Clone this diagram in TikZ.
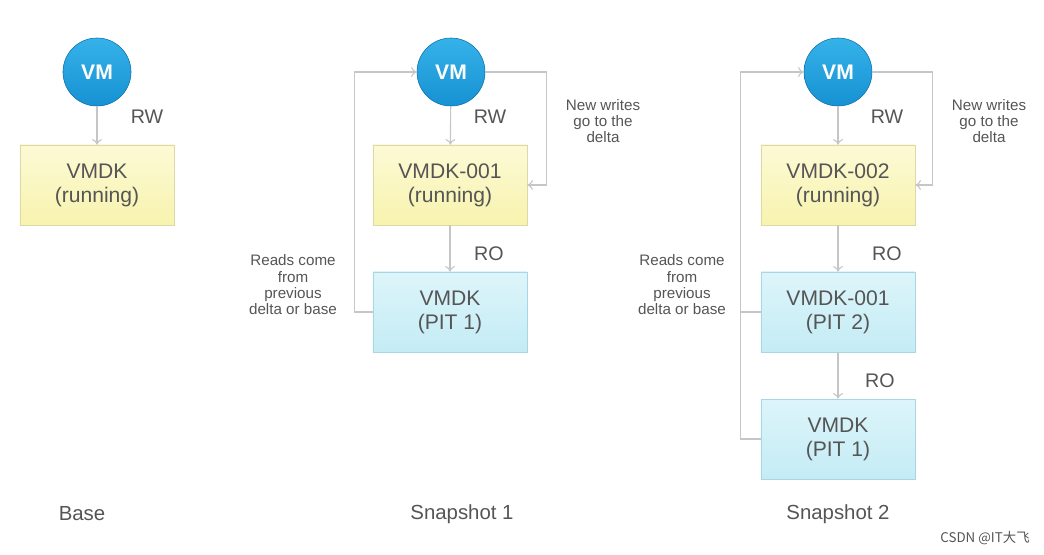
\documentclass[tikz,border=0pt]{standalone}
\usepackage{fontspec}
\setmainfont{Liberation Sans}
\newfontfamily\cjk{Noto Sans CJK SC}
\usepackage{xcolor}
\usetikzlibrary{arrows.meta}

\definecolor{vmblue}{HTML}{1691D2}
\definecolor{vmtop}{HTML}{36B2EA}
\definecolor{vmedge}{HTML}{0B6FAE}
\definecolor{runfill}{HTML}{F8F3AE}
\definecolor{runtop}{HTML}{FCFAD6}
\definecolor{runedge}{HTML}{DCD8A8}
\definecolor{pitfill}{HTML}{C4ECF5}
\definecolor{pittop}{HTML}{DDF5FA}
\definecolor{pitedge}{HTML}{A9D6E2}
\definecolor{linkgray}{HTML}{C6C6C6}
\definecolor{txtgray}{HTML}{555555}

\begin{document}
\begin{tikzpicture}[x=0.025cm,y=-0.025cm,
  vm/.style={circle,minimum size=1.7cm,inner sep=0pt,draw=vmedge,thin,
    top color=vmtop,bottom color=vmblue,text=white,font=\bfseries\fontsize{15}{17}\selectfont},
  disk/.style={rectangle,minimum width=3.85cm,minimum height=2cm,align=center,
    text=txtgray,font=\fontsize{15}{17}\selectfont},
  running/.style={disk,draw=runedge,top color=runtop,bottom color=runfill},
  pit/.style={disk,draw=pitedge,top color=pittop,bottom color=pitfill},
  mode/.style={text=txtgray,font=\fontsize{14}{16}\selectfont},
  note/.style={text=txtgray,align=center,font=\fontsize{10.8}{11.6}\selectfont},
  title/.style={text=txtgray,font=\fontsize{14.5}{16}\selectfont},
  arr/.style={draw=linkgray,thick,-{To[length=4pt,width=7pt]}},
  lnk/.style={draw=linkgray,thick}]
  \useasboundingbox (0,0) rectangle (1044,554);

  % base
  \node[vm] (vm0) at (97,72) {VM};
  \node[running] (d0) at (97,185) {VMDK\\(running)};
  \node[mode] (rw0) at (147,117) {RW};
  \node[title] (t0) at (82,514) {Base};
  \draw[arr] (vm0) -- (d0);

  % snapshot 1
  \node[vm] (vm1) at (451,72) {VM};
  \node[running] (d1a) at (450,185) {VMDK-001\\(running)};
  \node[pit] (d1b) at (450,312) {VMDK\\(PIT 1)};
  \node[mode] (rw1) at (490,117) {RW};
  \node[mode] (ro1) at (489,254) {RO};
  \node[note] (nw1) at (603,121) {New writes\\go to the\\delta};
  \node[note] (rd1) at (293,285) {Reads come\\from\\previous\\delta or base};
  \node[title] (t1) at (462,514) {Snapshot 1};
  \draw[arr] (vm1) -- (d1a);
  \draw[arr] (d1a) -- (d1b);
  \draw[arr] (d1b.west) -- ++(-18,0) |- (vm1.west);
  \draw[arr] (vm1.east) -- ++(61,0) |- (d1a.east);

  % snapshot 2
  \node[vm] (vm2) at (838,72) {VM};
  \node[running] (d2a) at (838,185) {VMDK-002\\(running)};
  \node[pit] (d2b) at (838,312) {VMDK-001\\(PIT 2)};
  \node[pit] (d2c) at (838,439) {VMDK\\(PIT 1)};
  \node[mode] (rw2) at (887,117) {RW};
  \node[mode] (ro2) at (887,254) {RO};
  \node[mode] (ro3) at (880,381) {RO};
  \node[note] (nw2) at (989,121) {New writes\\go to the\\delta};
  \node[note] (rd2) at (682,285) {Reads come\\from\\previous\\delta or base};
  \node[title] (t2) at (838,514) {Snapshot 2};
  \draw[arr] (vm2) -- (d2a);
  \draw[arr] (d2a) -- (d2b);
  \draw[arr] (d2b) -- (d2c);
  \draw[arr] (d2c.west) -- ++(-20,0) |- (vm2.west);
  \draw[lnk] (d2b.west) -- ++(-20,0);
  \draw[arr] (vm2.east) -- ++(60,0) |- (d2a.east);

  \node[text=txtgray,font=\cjk\fontsize{9.5}{11}\selectfont] (wm) at (985,538) {CSDN @IT大飞};
\end{tikzpicture}
\end{document}
